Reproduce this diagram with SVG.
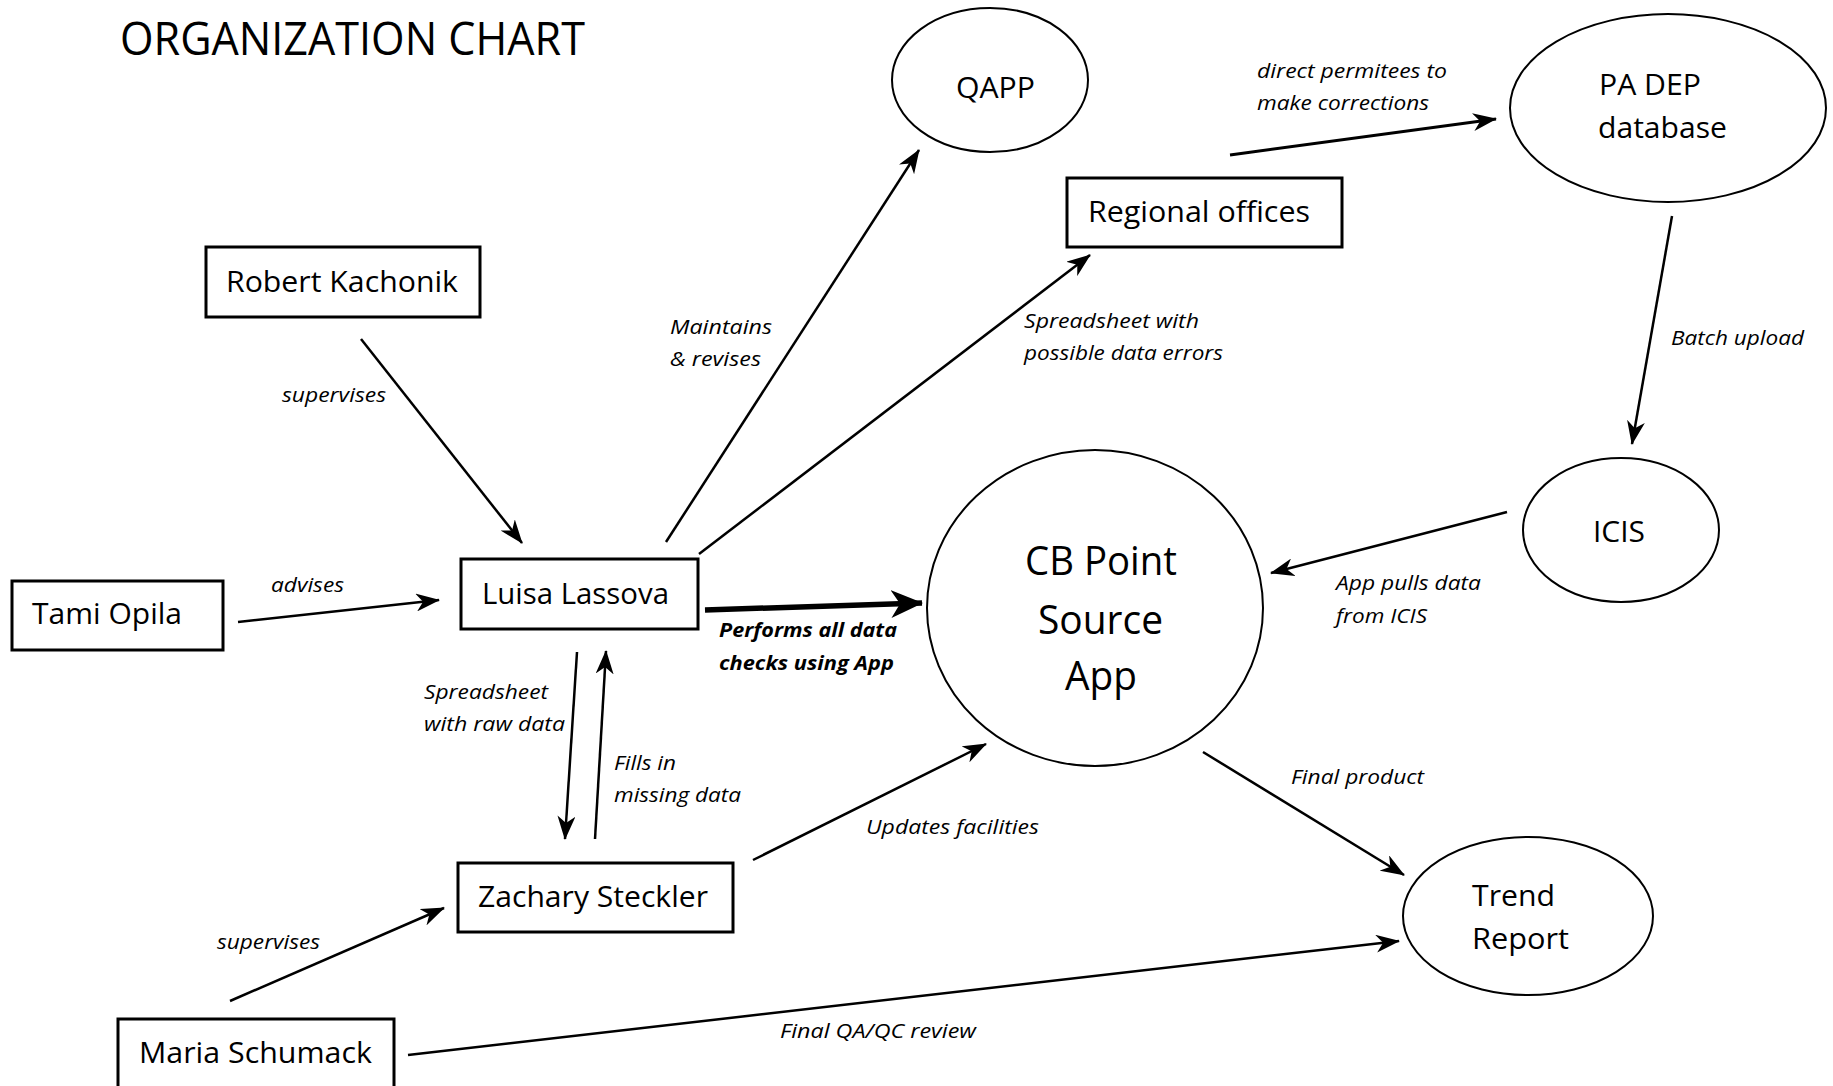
<svg xmlns="http://www.w3.org/2000/svg" width="1833" height="1086" viewBox="0 0 1833 1086">
<style>
  .box{fill:#fff;stroke:#000;stroke-width:3}
  .ell{fill:#fff;stroke:#000;stroke-width:2}
  .lbl{font-family:"Open Sans","Noto Sans",sans-serif;font-size:29px;fill:#000}
  .big{font-family:"Open Sans","Noto Sans",sans-serif;font-size:41px;fill:#000}
  .el{font-family:"Open Sans","Noto Sans",sans-serif;font-size:20px;font-style:italic;fill:#000}
  .elb{font-family:"Open Sans","Noto Sans",sans-serif;font-size:20px;font-style:italic;font-weight:bold;fill:#000}
  .con{fill:none;stroke:#000;stroke-width:2.5;marker-end:url(#arr)}
  .thick{fill:none;stroke:#000;stroke-width:5.5;marker-end:url(#arrT)}
</style>
<defs>
  <marker id="arr" viewBox="0 0 24 18" refX="23" refY="9" markerWidth="24" markerHeight="18" orient="auto" markerUnits="userSpaceOnUse">
    <path d="M0,0 L24,9 L0,18 L7,9 z" fill="#000"/>
  </marker>
  <marker id="arrT" viewBox="0 0 32 28" refX="31" refY="14" markerWidth="32" markerHeight="28" orient="auto" markerUnits="userSpaceOnUse">
    <path d="M0,0 L32,14 L0,28 L9,14 z" fill="#000"/>
  </marker>
</defs>
<rect width="1833" height="1086" fill="#fff"/>
<text x="120" y="55" font-family="Open Sans, Noto Sans, sans-serif" font-size="46" textLength="465" lengthAdjust="spacingAndGlyphs">ORGANIZATION CHART</text>

<g id="connectors">
  <line class="con" x1="361" y1="339" x2="522" y2="543"/>
  <line class="con" x1="238" y1="622" x2="439" y2="600"/>
  <line class="con" x1="666" y1="542" x2="919" y2="150"/>
  <line class="con" x1="699" y1="554" x2="1090" y2="255"/>
  <line class="con" x1="1230" y1="155" x2="1496" y2="119" style="stroke-width:3"/>
  <line class="con" x1="1672" y1="216" x2="1632" y2="444"/>
  <line class="con" x1="1507" y1="512" x2="1271" y2="573"/>
  <line class="thick" x1="705" y1="610" x2="922" y2="603"/>
  <line class="con" x1="577" y1="652" x2="565" y2="839"/>
  <line class="con" x1="595" y1="839" x2="606" y2="651"/>
  <line class="con" x1="753" y1="860" x2="986" y2="744"/>
  <line class="con" x1="230" y1="1001" x2="444" y2="908"/>
  <line class="con" x1="408" y1="1055" x2="1399" y2="941"/>
  <line class="con" x1="1203" y1="752" x2="1404" y2="875"/>
  <text class="el" x="282" y="402" textLength="104" lengthAdjust="spacingAndGlyphs">supervises</text>
  <text class="el" x="670" y="334" textLength="102" lengthAdjust="spacingAndGlyphs">Maintains</text>
  <text class="el" x="670" y="366" textLength="91" lengthAdjust="spacingAndGlyphs">&amp; revises</text>
  <text class="el" x="1257" y="78" textLength="190" lengthAdjust="spacingAndGlyphs">direct permitees to</text>
  <text class="el" x="1257" y="110" textLength="172" lengthAdjust="spacingAndGlyphs">make corrections</text>
  <text class="el" x="1024" y="328" textLength="175" lengthAdjust="spacingAndGlyphs">Spreadsheet with</text>
  <text class="el" x="1024" y="360" textLength="199" lengthAdjust="spacingAndGlyphs">possible data errors</text>
  <text class="el" x="1671" y="345" textLength="133" lengthAdjust="spacingAndGlyphs">Batch upload</text>
  <text class="el" x="271" y="592" textLength="73" lengthAdjust="spacingAndGlyphs">advises</text>
  <text class="elb" x="719" y="637" textLength="178" lengthAdjust="spacingAndGlyphs">Performs all data</text>
  <text class="elb" x="719" y="670" textLength="175" lengthAdjust="spacingAndGlyphs">checks using App</text>
  <text class="el" x="1336" y="590" textLength="145" lengthAdjust="spacingAndGlyphs">App pulls data</text>
  <text class="el" x="1336" y="623" textLength="91" lengthAdjust="spacingAndGlyphs">from ICIS</text>
  <text class="el" x="424" y="699" textLength="124" lengthAdjust="spacingAndGlyphs">Spreadsheet</text>
  <text class="el" x="424" y="731" textLength="141" lengthAdjust="spacingAndGlyphs">with raw data</text>
  <text class="el" x="614" y="770" textLength="62" lengthAdjust="spacingAndGlyphs">Fills in</text>
  <text class="el" x="614" y="802" textLength="127" lengthAdjust="spacingAndGlyphs">missing data</text>
  <text class="el" x="866" y="834" textLength="173" lengthAdjust="spacingAndGlyphs">Updates facilities</text>
  <text class="el" x="1291" y="784" textLength="133" lengthAdjust="spacingAndGlyphs">Final product</text>
  <text class="el" x="217" y="949" textLength="103" lengthAdjust="spacingAndGlyphs">supervises</text>
  <text class="el" x="780" y="1038" textLength="196" lengthAdjust="spacingAndGlyphs">Final QA/QC review</text>
</g>

<g id="robert">
  <rect class="box" x="206" y="247" width="274" height="70"/>
  <text class="lbl" x="226" y="292" textLength="232" lengthAdjust="spacingAndGlyphs">Robert Kachonik</text>
</g>
<g id="tami">
  <rect class="box" x="12" y="581" width="211" height="69"/>
  <text class="lbl" x="32" y="624" textLength="150" lengthAdjust="spacingAndGlyphs">Tami Opila</text>
</g>
<g id="luisa">
  <rect class="box" x="461" y="559" width="237" height="70"/>
  <text class="lbl" x="482" y="604" textLength="187" lengthAdjust="spacingAndGlyphs">Luisa Lassova</text>
</g>
<g id="zachary">
  <rect class="box" x="458" y="863" width="275" height="69"/>
  <text class="lbl" x="478" y="907" textLength="230" lengthAdjust="spacingAndGlyphs">Zachary Steckler</text>
</g>
<g id="maria">
  <rect class="box" x="118" y="1019" width="276" height="80"/>
  <text class="lbl" x="139" y="1063" textLength="233" lengthAdjust="spacingAndGlyphs">Maria Schumack</text>
</g>
<g id="regional">
  <rect class="box" x="1067" y="178" width="275" height="69"/>
  <text class="lbl" x="1088" y="222" textLength="222" lengthAdjust="spacingAndGlyphs">Regional offices</text>
</g>
<g id="qapp">
  <ellipse class="ell" cx="990" cy="80" rx="98" ry="72"/>
  <text class="lbl" x="956" y="98" textLength="79" lengthAdjust="spacingAndGlyphs">QAPP</text>
</g>
<g id="padep">
  <ellipse class="ell" cx="1668" cy="108" rx="158" ry="94"/>
  <text class="lbl" x="1599" y="95" textLength="102" lengthAdjust="spacingAndGlyphs">PA DEP</text>
  <text class="lbl" x="1598" y="138" textLength="129" lengthAdjust="spacingAndGlyphs">database</text>
</g>
<g id="icis">
  <ellipse class="ell" cx="1621" cy="530" rx="98" ry="72"/>
  <text class="lbl" x="1593" y="542" textLength="52" lengthAdjust="spacingAndGlyphs">ICIS</text>
</g>
<g id="cbapp">
  <ellipse class="ell" cx="1095" cy="608" rx="168" ry="158"/>
  <text class="big" x="1025" y="575" textLength="152" lengthAdjust="spacingAndGlyphs">CB Point</text>
  <text class="big" x="1038" y="634" textLength="125" lengthAdjust="spacingAndGlyphs">Source</text>
  <text class="big" x="1065" y="690" textLength="72" lengthAdjust="spacingAndGlyphs">App</text>
</g>
<g id="trend">
  <ellipse class="ell" cx="1528" cy="916" rx="125" ry="79"/>
  <text class="lbl" x="1472" y="906" textLength="83" lengthAdjust="spacingAndGlyphs">Trend</text>
  <text class="lbl" x="1472" y="949" textLength="97" lengthAdjust="spacingAndGlyphs">Report</text>
</g>
</svg>
